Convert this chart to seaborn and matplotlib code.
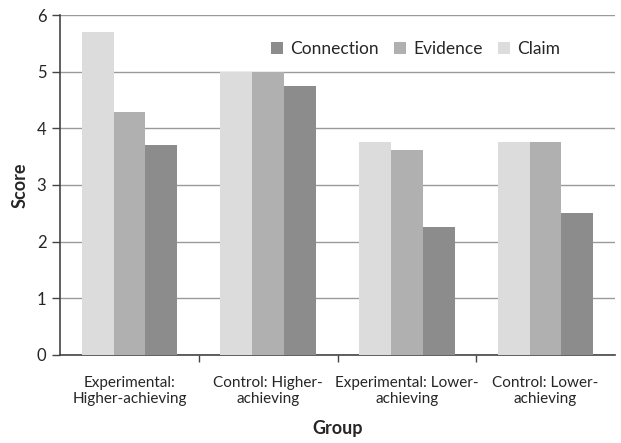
import pandas as pd
import numpy as np
import matplotlib
matplotlib.use("Agg")
import matplotlib.pyplot as plt
import seaborn as sns

# data
groups = ["Experimental:\nHigher-achieving", "Control: Higher-\nachieving",
          "Experimental: Lower-\nachieving", "Control: Lower-\nachieving"]
series = ["Claim", "Evidence", "Connection"]
claim = [5.7, 5.0, 3.75, 3.75]
evidence = [4.28, 5.0, 3.62, 3.75]
connection = [3.71, 4.75, 2.25, 2.5]
colors = ["#dcdcdc", "#b0b0b0", "#8c8c8c"]

df = pd.DataFrame({
    "Group": groups * 3,
    "Type": [s for s in series for _ in groups],
    "Score": claim + evidence + connection,
})

sns.set_style("white")
plt.rcParams["font.family"] = ["Lato", "DejaVu Sans"]

fig = plt.figure(figsize=(6.21, 4.43), dpi=100)
ax = fig.add_axes([0.097, 0.199, 0.893, 0.767])

sns.barplot(data=df, x="Group", y="Score", hue="Type", hue_order=series,
            palette=colors, width=0.69, saturation=1, linewidth=0, ax=ax, zorder=3)

ax.set_ylim(0, 6)
ax.set_xlim(-0.5, 3.5)
ax.set_yticks(range(0, 7))
ax.yaxis.grid(True, color="#9a9a9a", linewidth=1.0, zorder=0)
ax.set_axisbelow(True)
for s in ["top", "right"]:
    ax.spines[s].set_visible(False)
for s in ["left", "bottom"]:
    ax.spines[s].set_color("#444444")
    ax.spines[s].set_linewidth(1.2)

ax.tick_params(axis="y", which="major", length=6, width=1, color="#444444",
               direction="out", labelsize=12, pad=4, left=True)
ax.tick_params(axis="x", which="major", length=0, labelsize=11, pad=15)
ax.set_xticks([0.5, 1.5, 2.5], minor=True)
ax.tick_params(axis="x", which="minor", length=5, width=1, color="#444444",
               direction="out", bottom=True)

ax.set_xlabel("Group", fontsize=13, fontweight="bold", labelpad=10)
ax.set_ylabel("Score", fontsize=13, fontweight="bold", labelpad=6)

handles, labels = ax.get_legend_handles_labels()
ax.legend(handles[::-1], labels[::-1], loc="upper right", ncol=3, frameon=False,
          fontsize=12.5, handlelength=0.7, handleheight=0.7, handletextpad=0.4,
          columnspacing=0.9, bbox_to_anchor=(0.93, 0.97))

fig.savefig("out.png", dpi=100)
